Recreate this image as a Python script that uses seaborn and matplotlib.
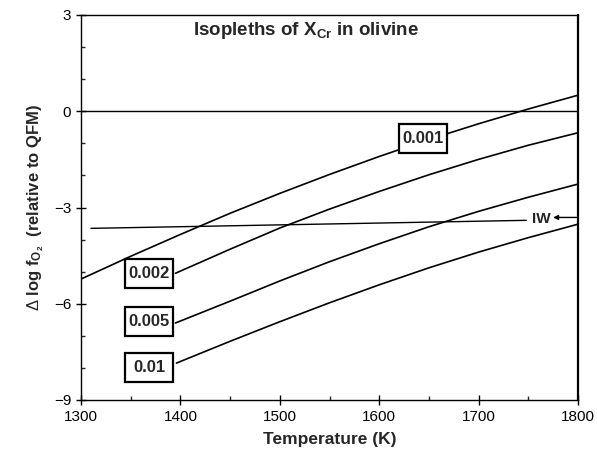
import numpy as np
import pandas as pd
import matplotlib
matplotlib.use("Agg")
import matplotlib.pyplot as plt
import seaborn as sns
from matplotlib.ticker import MultipleLocator
from matplotlib.patches import Rectangle

# ---- data ----
t_001 = [1300, 1350, 1400, 1450, 1500, 1550, 1600, 1650, 1700, 1750, 1800]
y_001 = [-5.23, -4.52, -3.84, -3.18, -2.56, -1.97, -1.41, -0.88, -0.39, 0.07, 0.50]

t_002 = [1395, 1450, 1500, 1550, 1600, 1650, 1700, 1750, 1800]
y_002 = [-5.05, -4.30, -3.64, -3.05, -2.50, -1.98, -1.50, -1.06, -0.67]

t_005 = [1395, 1450, 1500, 1550, 1600, 1650, 1700, 1750, 1800]
y_005 = [-6.60, -5.92, -5.29, -4.69, -4.13, -3.60, -3.12, -2.68, -2.27]

t_01 = [1396, 1450, 1500, 1550, 1600, 1650, 1700, 1750, 1800]
y_01 = [-7.85, -7.17, -6.56, -5.97, -5.41, -4.88, -4.39, -3.94, -3.52]

t_iw = [1310, 1748]
y_iw = [-3.65, -3.40]

labels = ["0.001", "0.002", "0.005", "0.01"]
label_pos_t = [1644, 1368.5, 1368.5, 1368.5]
label_pos_y = [-0.84, -5.05, -6.56, -8.0]

frames = []
for lab, t, y in zip(labels, [t_001, t_002, t_005, t_01], [y_001, y_002, y_005, y_01]):
    frames.append(pd.DataFrame({"T": t, "fO2": y, "X": lab}))
df = pd.concat(frames, ignore_index=True)
df_iw = pd.DataFrame({"T": t_iw, "fO2": y_iw})

sns.set_style("ticks")
plt.rcParams["font.family"] = ["Liberation Sans", "DejaVu Sans"]
plt.rcParams["mathtext.fontset"] = "custom"
plt.rcParams["mathtext.rm"] = "Liberation Sans"
plt.rcParams["mathtext.bf"] = "Liberation Sans:bold"
plt.rcParams["mathtext.it"] = "Liberation Sans:italic"

fig = plt.figure(figsize=(5.97, 4.57), dpi=100)
ax = fig.add_axes([81/597, 1-400/457, (578-81)/597, (400-15)/457])

sns.lineplot(data=df, x="T", y="fO2", units="X", estimator=None,
             color="black", lw=1.2, ax=ax, sort=True)
sns.lineplot(data=df_iw, x="T", y="fO2", estimator=None,
             color="black", lw=1.0, ax=ax)
ax.axhline(0, color="black", lw=1.0)

box_w, box_h = 48.5, 0.9
for lab, tx, ty in zip(labels, label_pos_t, label_pos_y):
    ax.add_patch(Rectangle((tx - box_w/2, ty - box_h/2), box_w, box_h,
                           fc="white", ec="black", lw=1.6, zorder=4))
    ax.text(tx, ty, lab, ha="center", va="center", fontsize=12,
            fontweight="bold", zorder=5)

ax.text(1763, -3.37, "IW", ha="center", va="center", fontsize=11,
        fontweight="bold", zorder=5)
ax.annotate("", xy=(1775, -3.31), xytext=(1800, -3.31),
            arrowprops=dict(arrowstyle="-|>", color="black", lw=1.0,
                            mutation_scale=7, shrinkA=0, shrinkB=0))

ax.text(1526, 2.53, r"Isopleths of X$_{\mathbf{Cr}}$ in olivine",
        ha="center", va="center", fontsize=13.5, fontweight="bold")

ax.set_xlim(1300, 1800)
ax.set_ylim(-9, 3)
ax.xaxis.set_major_locator(MultipleLocator(100))
ax.xaxis.set_minor_locator(MultipleLocator(50))
ax.yaxis.set_major_locator(MultipleLocator(3))
ax.yaxis.set_minor_locator(MultipleLocator(1))
ax.tick_params(which="major", direction="inout", length=7, width=1.0,
               labelsize=11, colors="black")
ax.tick_params(which="minor", direction="in", length=3, width=1.0)

for s in ax.spines.values():
    s.set_visible(True)
    s.set_color("black")
    s.set_linewidth(1.0)
ax.spines["right"].set_linewidth(1.6)

ax.set_xlabel("Temperature (K)", fontsize=12.5, fontweight="bold", labelpad=6)
ax.set_ylabel(r"$\Delta$ log f$_{\mathbf{O_2}}$  (relative to QFM)",
              fontsize=12, fontweight="bold", labelpad=6)

fig.savefig("out.png", dpi=100)
